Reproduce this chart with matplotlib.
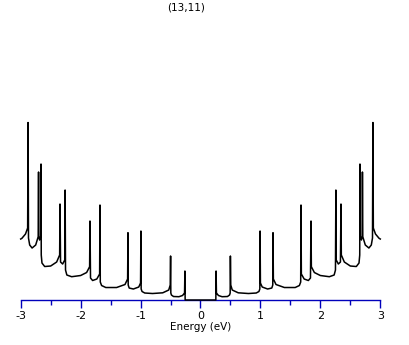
import numpy as np
import matplotlib
matplotlib.use("Agg")
import matplotlib.pyplot as plt

# density of states, positive-energy half (DOS is symmetric about E = 0)
energy_pos = [
    0.000, 0.256, 0.260, 0.266, 0.30, 0.36, 0.45, 0.485, 0.495,
    0.499, 0.505, 0.53, 0.63, 0.80, 0.93, 0.975, 0.990,
    0.994, 1.000, 1.03, 1.12, 1.19, 1.206,
    1.210, 1.216, 1.26, 1.40, 1.58, 1.65, 1.672,
    1.677, 1.683, 1.73, 1.80, 1.835,
    1.844, 1.850, 1.90, 2.00, 2.15, 2.23, 2.252,
    2.259, 2.265, 2.30, 2.335,
    2.344, 2.350, 2.40, 2.50, 2.60, 2.645, 2.657,
    2.661, 2.667, 2.685, 2.698,
    2.702, 2.708, 2.75, 2.81, 2.85, 2.870,
    2.877, 2.884, 2.92, 2.98, 3.00,
]
dos_pos = [
    0.000, 0.000, 0.290, 0.070, 0.045, 0.033, 0.035, 0.050, 0.070,
    0.440, 0.150, 0.100, 0.072, 0.065, 0.070, 0.085, 0.110,
    0.690, 0.170, 0.130, 0.110, 0.120, 0.150,
    0.673, 0.210, 0.155, 0.125, 0.125, 0.145, 0.180,
    0.950, 0.260, 0.210, 0.195, 0.220,
    0.790, 0.333, 0.275, 0.245, 0.233, 0.250, 0.300,
    1.100, 0.400, 0.360, 0.380,
    0.960, 0.450, 0.380, 0.340, 0.335, 0.370, 0.450,
    1.360, 0.640, 0.600, 0.640,
    1.280, 0.633, 0.550, 0.520, 0.550, 0.620,
    1.775, 0.720, 0.660, 0.617, 0.610,
]

title = "(13,11)"
x_ticks = [-3, -2, -1, 0, 1, 2, 3]
x_minor = [-2.5, -1.5, -0.5, 0.5, 1.5, 2.5]

e_pos = np.array(energy_pos)
d_pos = np.array(dos_pos)
energy = np.concatenate([-e_pos[::-1], e_pos[1:]])
dos = np.concatenate([d_pos[::-1], d_pos[1:]])

axis_blue = "#0000bb"

fig = plt.figure(figsize=(4.09, 3.45), dpi=100)
ax = fig.add_axes([0.0506, 0.1304, 0.8792, 0.826])

ax.plot(energy, dos, color="black", lw=1.1, zorder=3, clip_on=False)

ax.set_xlim(-3, 3)
ax.set_ylim(0, 2.85)

for side in ["left", "right", "top"]:
    ax.spines[side].set_visible(False)
ax.spines["bottom"].set_color(axis_blue)
ax.spines["bottom"].set_linewidth(1.0)

ax.set_yticks([])
ax.set_xticks(x_ticks)
ax.set_xticklabels([str(t) for t in x_ticks])
ax.set_xticks(x_minor, minor=True)
ax.tick_params(axis="x", which="major", direction="out", length=5.8,
               width=1.0, color=axis_blue, labelsize=8, pad=2)
ax.tick_params(axis="x", which="minor", direction="out", length=3.6,
               width=1.0, color=axis_blue)
ax.set_xlabel("Energy (eV)", fontsize=7.5, labelpad=1)

fig.text(186.5 / 409, 1 - 7 / 345, title, ha="center", va="center", fontsize=7.5)

fig.savefig("out.png", dpi=100)
